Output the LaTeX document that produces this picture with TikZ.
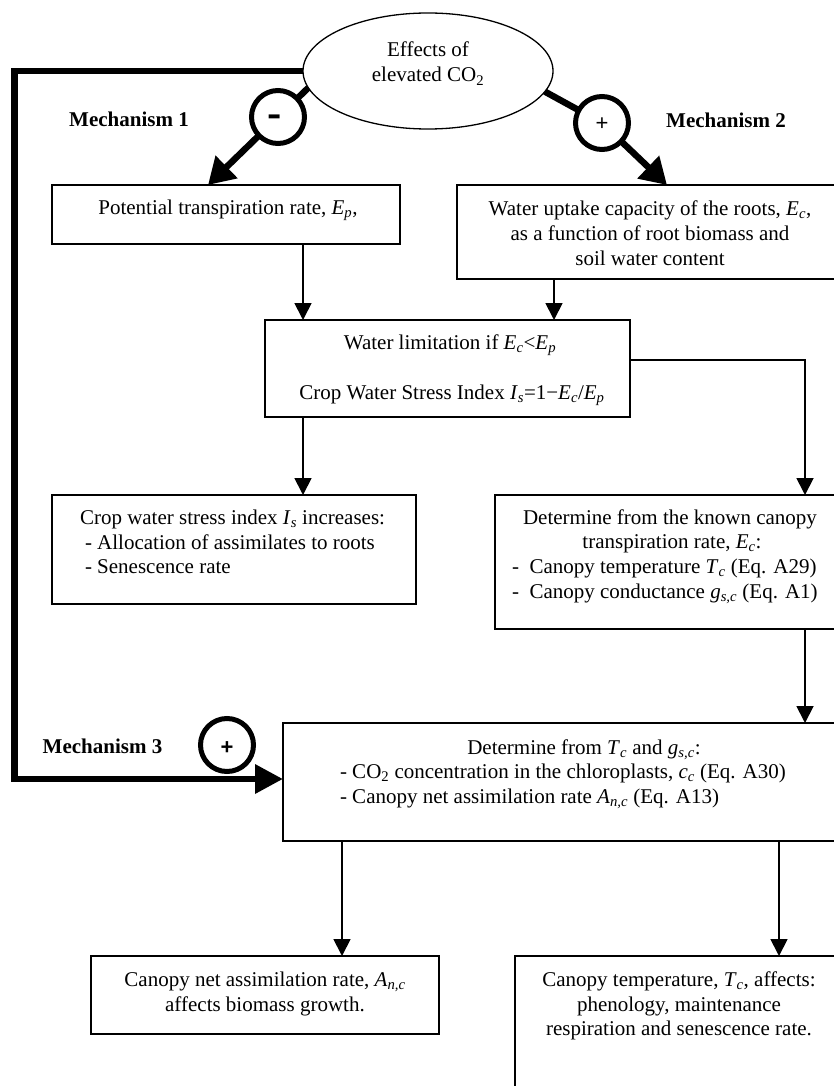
\documentclass[tikz,border=0pt]{standalone}
\usepackage{fontspec}
\usepackage{graphicx}
\setmainfont{Liberation Serif}
\newfontfamily\symfont{Liberation Sans}
\usetikzlibrary{shapes.geometric,arrows.meta}
\newcommand\vr[2]{\textit{#1}\textsubscript{\textit{#2}}}
\begin{document}
\begin{tikzpicture}[x=1pt,y=-1pt,
  every node/.style={inner sep=0pt, outer sep=0pt},
  txt/.style={font=\fontsize{21}{24.5}\selectfont, anchor=base},
  txtl/.style={font=\fontsize{21}{24.5}\selectfont, anchor=base west},
  mech/.style={font=\fontsize{21}{24.5}\selectfont\bfseries, anchor=base},
  box/.style={draw, line width=1.8pt, rectangle},
  ring/.style={draw, circle, line width=5pt, minimum size=53pt},
  sym/.style={font=\symfont\fontsize{22}{24}\selectfont, anchor=base},
  symb/.style={font=\symfont\bfseries\fontsize{22}{24}\selectfont, anchor=base},
  arr/.style={line width=1.8pt, -{Triangle[length=17pt,width=17pt]}},
  thk/.style={line width=6.5pt},
  thkarr/.style={line width=6.5pt, -{Triangle[length=26pt,width=30pt]}},
]
\useasboundingbox (0,0) rectangle (834,1086);
\fill[white] (0,0) rectangle (834,1086);
\clip (0,0) rectangle (834,1086);

% ellipse
\node[draw, ellipse, line width=1.3pt, minimum width=250pt, minimum height=116pt] (ell) at (428,71) {};
\node[txt] (e1) at (428,57) {Effects of};
\node[txt] (e2) at (428,82) {elevated CO\textsubscript{2}};

% boxes
\node[box, minimum width=348pt, minimum height=59pt] (b1) at (226,214.5) {};
\node[box, minimum width=388pt, minimum height=94pt] (b2) at (651,232) {};
\node[box, minimum width=365pt, minimum height=97pt] (b3) at (447.5,368.5) {};
\node[box, minimum width=364pt, minimum height=109pt] (b4) at (234,549.5) {};
\node[box, minimum width=350pt, minimum height=134pt] (b5) at (670,562) {};
\node[box, minimum width=562pt, minimum height=118pt] (b6) at (564,782) {};
\node[box, minimum width=348pt, minimum height=78pt] (b7) at (265,995) {};
\node[box, minimum width=330pt, minimum height=154pt] (b8) at (680,1033) {};

% texts
\node[txt] (t1a) at (228,214) {Potential transpiration rate, \vr{E}{p},};
\node[txt] (t2a) at (650,215) {Water uptake capacity of the roots, \vr{E}{c},};
\node[txt] (t2b) at (650,240) {as a function of root biomass and};
\node[txt] (t2c) at (650,265) {soil water content};
\node[txt] (t3a) at (450,349) {Water limitation if \vr{E}{c}<\vr{E}{p}};
\node[txt] (t3b) at (452,399) {Crop Water Stress Index \vr{I}{s}=1−\vr{E}{c}/\vr{E}{p}};
\node[txtl] (t4a) at (80,524) {Crop water stress index \vr{I}{s} increases:};
\node[txtl] (t4b) at (85,549) {- Allocation of assimilates to roots};
\node[txtl] (t4c) at (85,573) {- Senescence rate};
\node[txt] (t5a) at (670,524) {Determine from the known canopy};
\node[txt] (t5b) at (672,548) {transpiration rate, \vr{E}{c}:};
\node[txtl] (t5c) at (512,573) {-~~Canopy temperature \vr{T}{c} (Eq. A29)};
\node[txtl] (t5d) at (512,598) {-~~Canopy conductance \vr{g}{s,c} (Eq. A1)};
\node[txt] (t6a) at (584,754) {Determine from \vr{T}{c} and \vr{g}{s,c}:};
\node[txtl] (t6b) at (340,778) {- CO\textsubscript{2} concentration in the chloroplasts, \vr{c}{c} (Eq. A30)};
\node[txtl] (t6c) at (340,803) {- Canopy net assimilation rate \vr{A}{n,c} (Eq. A13)};
\node[txt] (t7a) at (265,986) {Canopy net assimilation rate, \vr{A}{n,c}};
\node[txt] (t7b) at (265,1011) {affects biomass growth.};
\node[txt] (t8a) at (679,986) {Canopy temperature, \vr{T}{c}, affects:};
\node[txt] (t8b) at (679,1011) {phenology, maintenance};
\node[txt] (t8c) at (679,1035) {respiration and senescence rate.};

% mechanism labels and rings
\node[mech] (k1) at (129,127) {Mechanism 1};
\node[mech] (k2) at (726,128) {Mechanism 2};
\node[mech] (k3) at (102.5,753) {Mechanism 3};
\node[ring] (m1c) at (278,117) {};
\node[ring] (m2c) at (602,123) {};
\node[ring] (m3c) at (227,745) {};
\node[symb] (m1s) at (275,128) {\scalebox{1}[1.8]{–}};
\node[sym] (m2s) at (602,131) {+};
\node[symb] (m3s) at (227,754) {+};

% thick mechanism connectors
\coordinate (tp1) at ([xshift=-18pt]b1.north);
\coordinate (tp2) at ([xshift=16pt]b2.north);
\draw[thk] (ell.188) -- (m1c);
\draw[thkarr] (m1c) -- (tp1);
\draw[thk] (ell.-10) -- (m2c);
\draw[thkarr] (m2c) -- (tp2);
\coordinate (c1) at (14.5,71);
\coordinate (c2) at (14.5,779);
\draw[thk, line join=miter, -{Triangle[length=28pt,width=28pt]}] (ell.west) -- (c1) -- (c2) -- (c2 -| b6.west);

% thin connectors
\coordinate (p1) at ([xshift=77pt]b1.south);
\coordinate (p2) at ([xshift=-97pt]b2.south);
\coordinate (p3) at ([yshift=8.5pt]b3.east);
\coordinate (q3) at ([xshift=135pt]b5.north);
\coordinate (p4) at ([xshift=-144.5pt]b3.south);
\coordinate (p5) at ([xshift=135pt]b5.south);
\coordinate (p6) at ([xshift=-222pt]b6.south);
\coordinate (p7) at ([xshift=215pt]b6.south);
\draw[arr] (p1) -- (p1 |- b3.north);
\draw[arr] (p2) -- (p2 |- b3.north);
\draw[arr] (p3) -| (q3);
\draw[arr] (p4) -- (p4 |- b4.north);
\draw[arr] (p5) -- (p5 |- b6.north);
\draw[arr] (p6) -- (p6 |- b7.north);
\draw[arr] (p7) -- (p7 |- b8.north);
\end{tikzpicture}
\end{document}
